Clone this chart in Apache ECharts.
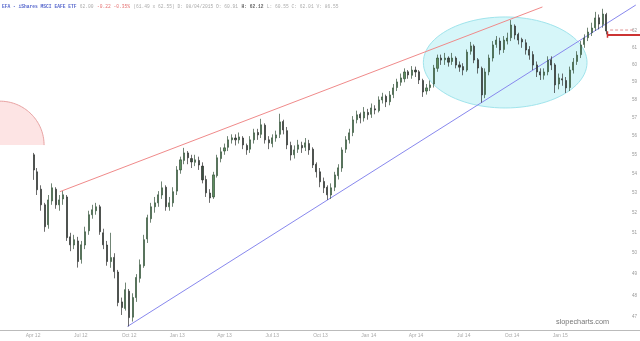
<!DOCTYPE html>
<html><head><meta charset="utf-8">
<script src="https://cdn.jsdelivr.net/npm/echarts@6/dist/echarts.min.js"></script>
<style>html,body{margin:0;padding:0;background:#fff}#c{width:640px;height:341px}</style>
</head><body><div id="c"></div>
<script>
// ---- data ----
const firstWeek = '2012-04-02';
// weekly candles: [open, close, low, high]
const candles = [
[55.00,54.20,53.68,55.10],[54.10,53.17,52.90,54.30],[53.20,52.40,52.10,53.40],[52.40,51.30,51.05,52.50],
[51.40,52.65,51.20,52.90],[52.60,53.27,52.40,53.50],[53.20,52.40,52.20,53.30],[52.40,52.65,52.10,52.90],
[52.70,52.91,52.40,53.10],[52.80,50.76,50.60,52.90],[50.80,50.41,50.10,51.00],[50.40,50.66,50.20,50.90],
[50.60,49.60,49.31,50.80],[49.70,50.41,49.50,50.60],[50.40,51.05,50.20,51.30],[51.10,51.90,50.90,52.10],
[51.90,52.15,51.70,52.40],[52.10,52.30,51.90,52.50],[52.30,51.05,50.90,52.40],[51.00,50.41,50.20,51.20],
[50.40,49.60,49.40,50.60],[49.60,49.79,49.30,51.00],[49.80,49.12,48.80,50.00],[49.10,47.67,47.50,49.20],
[47.70,47.44,47.10,47.90],[47.40,48.27,47.30,48.60],[48.20,46.98,46.58,48.30],[47.00,47.90,46.80,48.10],
[47.90,48.84,47.70,49.00],[48.80,49.45,48.60,49.70],[49.40,50.66,49.30,50.90],[50.70,51.75,50.50,51.90],
[51.70,52.30,51.50,52.50],[52.30,52.50,52.00,52.80],[52.50,52.91,52.30,53.10],[52.90,53.27,52.70,53.60],
[53.30,52.30,52.10,53.40],[52.30,52.50,52.10,52.80],[52.50,53.07,52.30,53.30],[53.10,54.20,52.90,54.40],
[54.20,54.73,54.00,54.90],[54.70,55.10,54.50,55.37],[55.10,54.84,54.50,55.20],[54.80,54.62,54.30,55.00],
[54.60,54.73,54.40,55.00],[54.70,54.46,54.20,54.90],[54.40,53.68,53.50,54.60],[53.70,53.01,52.80,53.90],
[53.00,52.75,52.50,53.20],[52.80,53.94,52.70,54.10],[53.90,54.84,53.80,55.00],[54.80,55.16,54.60,55.40],
[55.20,55.37,55.00,55.60],[55.40,55.80,55.20,56.00],[55.80,55.91,55.60,56.10],[55.90,55.80,55.50,56.10],
[55.80,55.96,55.60,56.20],[55.90,55.53,55.30,56.00],[55.50,55.26,55.00,55.60],[55.30,55.80,55.10,56.00],
[55.80,56.18,55.60,56.40],[56.20,56.07,55.80,56.40],[56.10,56.62,55.90,56.95],[56.60,55.80,55.60,56.70],
[55.80,55.64,55.30,56.00],[55.60,55.91,55.40,56.10],[55.90,56.07,55.70,56.30],[56.10,56.78,55.90,57.23],
[56.80,56.34,56.10,56.90],[56.30,55.53,55.30,56.50],[55.50,54.99,54.70,55.70],[55.00,55.26,54.80,55.50],
[55.30,55.53,55.10,55.80],[55.50,55.37,55.10,55.70],[55.40,55.64,55.20,55.90],[55.60,55.26,55.00,55.80],
[55.30,54.46,54.30,55.40],[54.50,54.10,53.80,54.60],[54.10,53.58,53.30,54.30],[53.60,53.27,53.00,53.80],
[53.30,52.91,52.65,53.40],[52.90,53.27,52.70,53.50],[53.30,53.94,53.10,54.10],[53.90,54.31,53.70,54.50],
[54.30,55.26,54.10,55.40],[55.30,55.80,55.10,56.00],[55.80,56.18,55.60,56.40],[56.20,56.89,56.00,57.10],
[56.90,57.17,56.70,57.40],[57.20,57.00,56.70,57.30],[57.00,57.33,56.80,57.60],[57.30,57.17,56.90,57.50],
[57.20,57.55,57.00,57.80],[57.50,57.44,57.20,57.70],[57.40,58.00,57.30,58.20],[58.00,58.17,57.80,58.40],
[58.20,57.89,57.60,58.30],[57.90,58.28,57.70,58.50],[58.30,58.68,58.10,58.90],[58.70,59.02,58.50,59.20],
[59.00,59.25,58.80,59.50],[59.20,59.59,59.00,59.80],[59.60,59.42,59.20,59.70],[59.40,59.70,59.20,59.93],
[59.70,59.59,59.30,59.90],[59.60,59.13,58.90,59.70],[59.10,58.45,58.17,59.20],[58.50,58.68,58.30,58.90],
[58.70,58.85,58.50,59.10],[58.90,59.82,58.70,60.00],[59.80,60.40,59.60,60.60],[60.40,60.28,60.00,60.60],
[60.30,60.40,60.00,60.70],[60.40,60.16,59.90,60.50],[60.20,60.40,60.00,60.70],[60.40,59.99,59.80,60.50],
[60.00,59.87,59.60,60.20],[59.90,59.70,59.40,60.10],[59.70,60.75,59.60,60.90],[60.80,61.11,60.60,61.35],
[61.10,60.28,60.10,61.20],[60.30,59.82,59.50,60.40],[59.80,58.28,57.85,59.90],[58.30,59.59,58.10,59.80],
[59.60,60.40,59.40,60.60],[60.40,61.17,60.20,61.40],[61.20,61.46,61.00,61.70],[61.40,60.87,60.60,61.60],
[60.90,61.46,60.70,61.70],[61.40,61.58,61.20,61.90],[61.60,62.36,61.40,62.66],[62.30,61.76,61.50,62.40],
[61.80,61.46,61.20,61.90],[61.50,61.35,61.00,61.60],[61.30,60.87,60.60,61.50],[60.90,60.57,60.30,61.10],
[60.60,59.99,59.70,60.80],[60.00,59.59,59.30,60.20],[59.60,59.42,59.13,59.80],[59.40,59.59,59.15,59.80],
[59.60,60.28,59.40,60.50],[60.30,59.99,59.70,60.50],[60.00,58.85,58.39,60.10],[58.90,59.25,58.60,59.50],
[59.20,59.13,58.80,59.50],[59.10,58.68,58.39,59.30],[58.70,59.70,58.50,59.90],[59.70,60.16,59.50,60.40],
[60.20,60.57,60.00,60.80],[60.60,61.17,60.40,61.40],[61.20,61.58,61.00,61.80],[61.60,61.94,61.40,62.20],
[61.90,62.18,61.70,62.50],[62.20,62.79,62.00,63.16],[62.80,62.42,62.10,63.00],[62.40,63.03,62.20,63.35],
[63.00,62.00,61.80,63.10]
];
const quarterDates = ['2012-04-01','2012-07-01','2012-10-01','2013-01-01','2013-04-01','2013-07-01','2013-10-01','2014-01-01','2014-04-01','2014-07-01','2014-10-01','2015-01-01'];
const quarterLabels = ['Apr 12','Jul 12','Oct 12','Jan 13','Apr 13','Jul 13','Oct 13','Jan 14','Apr 14','Jul 14','Oct 14','Jan 15'];
const priceTicks = [47,48,49,50,51,52,53,54,55,56,57,58,59,60,61,62];
const resistanceLine = [['2012-05-22',53.07],['2014-11-28',63.46]];
const supportLine = [['2012-09-28',46.58],['2015-05-25',63.58]];
const dashedLevel = [['2015-04-06',62.06],['2015-05-20',62.06]];
const lastPriceLine = [['2015-04-01',61.76],['2015-06-02',61.76]];
const lastPriceTick = [['2015-04-01',61.98],['2015-04-01',61.60]];
// ellipse annotation: center date, center price, half-width in days, top & bottom price
const ellipseCenter = ['2014-09-18',60.11];
const ellipseHalfDays = [156];
const ellipseTopBottom = [62.85,57.55];
// quarter-circle annotation at left edge
const wedgeCenter = ['2012-01-29',55.52];
const wedgeHalfDays = [84];
const wedgeTop = [57.93];
const xRange = ['2012-01-29','2015-06-02'];
const yRange = [46.42,63.89];

// ---- build ----
const P = s => echarts.time.parse(s).getTime();
const DAY = 864e5;
const t0 = P(firstWeek);
const candleData = candles.map((c,i)=>[t0 + i*7*DAY, c[0], c[1], c[2], c[3]]);
const qTs = quarterDates.map(P);
const toXY = arr => arr.map(p=>[P(p[0]),p[1]]);

const chart = echarts.init(document.getElementById('c'));
chart.setOption({
  animation:false,
  backgroundColor:'#fff',
  grid:{left:0,right:0,top:0,bottom:11,containLabel:false},
  xAxis:{type:'value',min:P(xRange[0]),max:P(xRange[1]),scale:true,
    axisLine:{show:true,onZero:false,lineStyle:{color:'#bbb',width:1}},
    axisTick:{show:false},splitLine:{show:false},
    axisLabel:{customValues:qTs,fontSize:5,color:'#aaa',margin:3,fontFamily:'Liberation Sans',
      showMinLabel:true,showMaxLabel:true,
      formatter:v=>{let best=0,bd=1e20;qTs.forEach((q,i)=>{const d=Math.abs(q-v);if(d<bd){bd=d;best=i;}});return quarterLabels[best];}}
  },
  yAxis:{type:'log',logBase:10,min:yRange[0],max:yRange[1],position:'right',
    axisLine:{show:false},axisTick:{show:false},splitLine:{show:false},
    axisLabel:{inside:true,customValues:priceTicks,fontSize:4.5,color:'#999',margin:3,fontFamily:'Liberation Sans',formatter:v=>String(Math.round(v))}
  },
  graphic:[
    {type:'text',left:2,top:1,z:100,style:{
      text:'{a|EFA - iShares MSCI EAFE ETF} {b|62.00} {r|-0.22 -0.35%} {b|(61.49 x 62.55) D: 08/04/2015 O: 60.91} {k|H: 62.12} {b|L: 60.55 C: 62.01 V: 86.55}',
      rich:{
        a:{fill:'#5566cc',fontSize:4.6,fontFamily:'Liberation Mono',fontWeight:'bold'},
        b:{fill:'#aaa',fontSize:4.6,fontFamily:'Liberation Mono'},
        r:{fill:'#e57373',fontSize:4.6,fontFamily:'Liberation Mono'},
        k:{fill:'#666',fontSize:4.6,fontFamily:'Liberation Mono',fontWeight:'bold'}
      }}},
    {type:'text',left:556,top:318,z:100,style:{text:'slopecharts.com',fill:'#777',fontSize:7.3,fontFamily:'Liberation Sans'}}
  ],
  series:[
    {type:'custom',z:1,silent:true,clip:false,data:[[P(ellipseCenter[0]),ellipseCenter[1]]],
     renderItem:(params,api)=>{
       const cx=api.value(0), cy=api.value(1);
       const c=api.coord([cx,cy]);
       const l=api.coord([cx-ellipseHalfDays[0]*DAY,cy]);
       const t=api.coord([cx,ellipseTopBottom[0]]);
       const b=api.coord([cx,ellipseTopBottom[1]]);
       const rx=c[0]-l[0], ry=(b[1]-t[1])/2, my=(b[1]+t[1])/2;
       const pts=[];for(let i=0;i<96;i++){const a=i/96*2*Math.PI;pts.push([c[0]+rx*Math.cos(a),my+ry*Math.sin(a)]);}
       return {type:'polygon',shape:{points:pts},style:{fill:'#d6f6f9',stroke:'#a0e4ec',lineWidth:1}};
     }},
    {type:'custom',z:1,silent:true,clip:false,data:[[P(wedgeCenter[0]),wedgeCenter[1]]],
     renderItem:(params,api)=>{
       const cx=api.value(0), cy=api.value(1);
       const c=api.coord([cx,cy]);
       const r=api.coord([cx+wedgeHalfDays[0]*DAY,cy]);
       const t=api.coord([cx,wedgeTop[0]]);
       const rx=r[0]-c[0], ry=c[1]-t[1];
       const arc=[];for(let i=0;i<=40;i++){const a=i/40*Math.PI/2;arc.push([c[0]+rx*Math.cos(a),c[1]-ry*Math.sin(a)]);}
       return {type:'group',children:[
         {type:'polygon',shape:{points:[[c[0],c[1]]].concat(arc)},style:{fill:'#fde4e4',stroke:null}},
         {type:'polyline',shape:{points:arc},style:{stroke:'#e8a2a2',lineWidth:1,fill:null}}
       ]};
     }},
    {type:'line',z:3,data:toXY(resistanceLine),symbol:'none',silent:true,lineStyle:{color:'#f08a8a',width:1}},
    {type:'line',z:3,data:toXY(supportLine),symbol:'none',silent:true,lineStyle:{color:'#8888ee',width:1}},
    {type:'line',z:3,data:toXY(dashedLevel),symbol:'none',silent:true,lineStyle:{color:'#e09090',width:1,type:[3,2]}},
    {type:'line',z:3,data:toXY(lastPriceLine),symbol:'none',silent:true,lineStyle:{color:'#cc3333',width:2}},
    {type:'line',z:3,data:toXY(lastPriceTick),symbol:'none',silent:true,lineStyle:{color:'#cc3333',width:1.5}},
    {type:'candlestick',z:4,data:candleData,barWidth:1.6,silent:true,
     itemStyle:{color:'#5e8f5e',color0:'#3a5240',borderColor:'#33503a',borderColor0:'#2e2e2e',borderWidth:0.7}}
  ]
});
</script></body></html>
